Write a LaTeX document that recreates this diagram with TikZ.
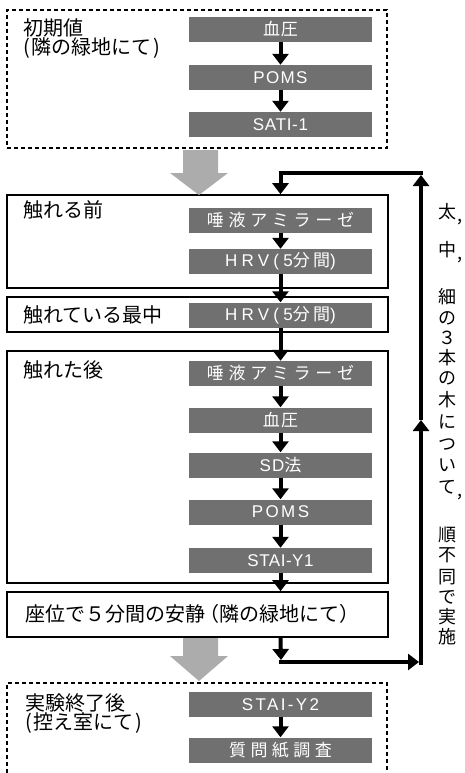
\documentclass[tikz,border=0pt]{standalone}
\usepackage{fontspec}
\newfontfamily\jp{Noto Sans CJK JP}
\newfontfamily\lat{Liberation Sans}
\usetikzlibrary{arrows.meta}
\definecolor{gfill}{RGB}{112,112,112}
\definecolor{afill}{RGB}{172,172,172}
\newcommand\LS[1]{\addfontfeatures{LetterSpace=#1}}
\newcommand\gl{\fontsize{17}{19}\selectfont\lat}
\newcommand\gj{\fontsize{17}{19}\selectfont\jp}
\begin{document}
\begin{tikzpicture}[x=1pt,y=-1pt,
 gbox/.style={fill=gfill, minimum width=183pt, minimum height=25pt, inner sep=0pt, text=white, font=\gj},
 frame/.style={draw, line width=1.6pt, inner sep=0pt},
 dotline/.style={draw, line width=2pt, dash pattern=on 4pt off 3pt},
 lbl/.style={anchor=west, inner sep=0pt, font=\fontsize{20}{24}\selectfont\jp},
 vch/.style={inner sep=0pt, font=\fontsize{18}{20}\selectfont\jp},
 tip/.style={-{Triangle[width=16pt,length=11pt]}},
 conn/.style={line width=4pt, tip},
 fb/.style={line width=4pt},
 bigarrow/.style={fill=afill}]
\useasboundingbox (0,0) rectangle (464,773);

% frames
\node[frame, dotline, minimum width=380pt, minimum height=138pt] (init) at (197,79) {};
\node[frame, minimum width=381pt, minimum height=93pt] (before) at (197.5,241.5) {};
\node[frame, minimum width=381pt, minimum height=35pt] (during) at (197.5,314.5) {};
\node[frame, minimum width=381pt, minimum height=232pt] (after) at (197.5,467) {};
\node[frame, minimum width=381pt, minimum height=45pt] (rest) at (197.5,614.5) {};
\coordinate (eTL) at (7,683);
\coordinate (eTR) at (387,683);
\draw[dotline] (7,780) -- (eTL) -- (eTR) -- (387,780);

% labels
\node[lbl] (l1) at (23,28) {初期値};
\node[lbl] (l2) at (23,48) {(\kern2pt 隣の緑地にて\kern2pt)};
\node[lbl] (l3) at (23,210) {触れる前};
\node[lbl] (l4) at (23,315) {触れている最中};
\node[lbl] (l5) at (23,370) {触れた後};
\node[lbl] (l6) at (25,614) {座位で５分間の安静\kern-6pt（隣の緑地にて）};
\node[lbl] (l7) at (25,703) {実験終了後};
\node[lbl] (l8) at (25,723) {(\kern2pt 控え室にて\kern2pt)};

% gray boxes
\node[gbox] (g1) at (280.5,29.5) {\LS{5}血圧};
\node[gbox] (g2) at (280.5,77.5) {\gl\LS{8}POMS};
\node[gbox] (g3) at (280.5,124.5) {\gl\LS{4}SATI-1};
\node[gbox] (g4) at (280.5,220) {\LS{28}唾液アミラーゼ};
\node[gbox] (g5) at (280.5,261.5) {{\gl\LS{25}HRV(5}{\LS{20}分間}{\gl )}};
\node[gbox] (g6) at (280.5,315) {{\gl\LS{25}HRV(5}{\LS{20}分間}{\gl )}};
\node[gbox] (g7) at (280.5,373.5) {\LS{28}唾液アミラーゼ};
\node[gbox] (g8) at (280.5,420) {\LS{8}血圧};
\node[gbox] (g9) at (280.5,465) {{\gl\LS{8}SD}法};
\node[gbox] (g10) at (280.5,512) {\gl\LS{14}POMS};
\node[gbox] (g11) at (280.5,560.5) {\gl\LS{3}STAI-Y1};
\node[gbox] (g12) at (280.5,704.5) {\gl\LS{14}STAI-Y2};
\node[gbox] (g13) at (280.5,750) {\LS{26}質問紙調査};

% connectors
\draw[conn] (g1) -- (g2);
\draw[conn] (g2) -- (g3);
\draw[conn] (g4) -- (g5);
\draw[conn] (g5) -- (g6);
\draw[conn] (g6) -- (g7);
\draw[conn] (g7) -- (g8);
\draw[conn] (g8) -- (g9);
\draw[conn] (g9) -- (g10);
\draw[conn] (g10) -- (g11);
\draw[conn] (g11) -- (g11 |- rest.north);
\draw[conn] (g12) -- (g13);

% feedback loop
\coordinate (tr) at (421,173);
\coordinate (mid) at (421,420);
\coordinate (topend) at (421,175);
\coordinate (br) at (421,665);
\coordinate (cb) at (279,662);
\coordinate (cr) at (419,662);
\draw[fb, tip] (rest.south -| g11) -- (281,660);
\draw[fb, tip] (cb) -- (cr);
\draw[fb, tip] (br) -- (mid);
\draw[fb, tip] (mid) -- (topend);
\draw[fb, tip] (423,173) -- (g4 |- tr) -- (g4 |- before.north);

% big gray arrows
\fill[bigarrow] (183,150) -- (218,150) -- (218,173) -- (228,173) -- (199,195) -- (170,173) -- (183,173) -- cycle;
\fill[bigarrow] (183,638) -- (218,638) -- (218,656) -- (228,656) -- (199,681) -- (170,656) -- (183,656) -- cycle;

% vertical text
\foreach \c/\yy [count=\i] in {太/212,中/250,細/297,の/318,３/338,本/358,の/378,木/400,に/422,つ/445,い/465,て/487,順/535,不/555,同/577,で/597,実/617,施/637}
  \node[vch] (v\i) at (447,\yy) {\c};
\node[vch] (c1) at (460,222) {,};
\node[vch] (c2) at (460,260) {,};
\node[vch] (c3) at (460,497) {,};
\end{tikzpicture}
\end{document}
